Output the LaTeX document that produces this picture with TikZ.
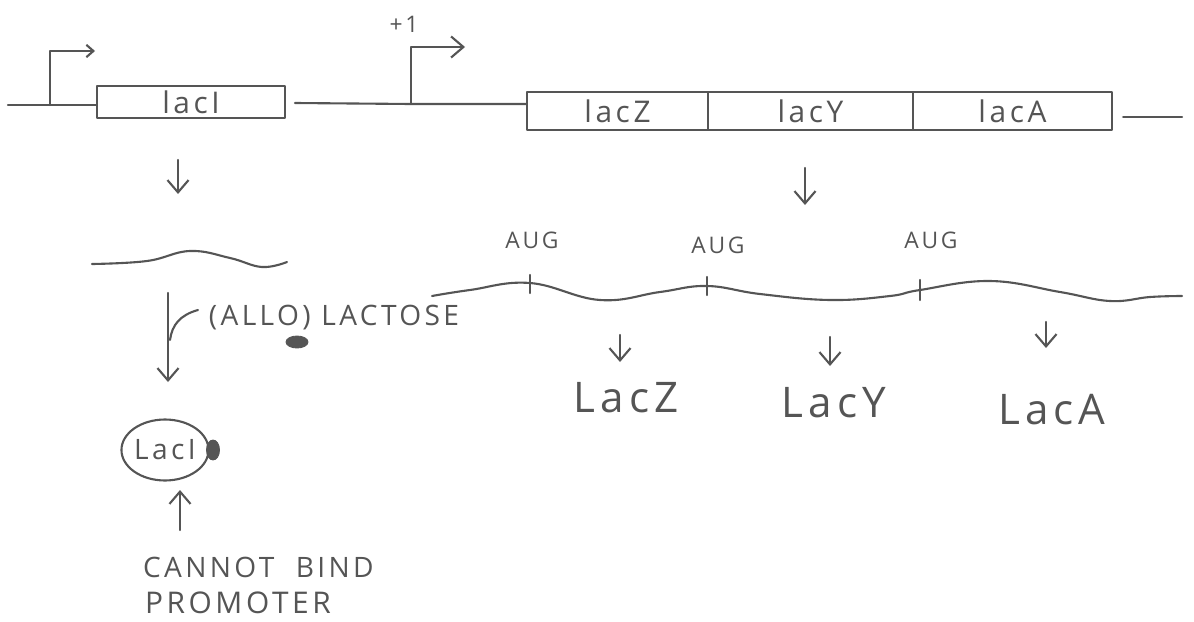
\documentclass[tikz,border=0pt]{standalone}
\usepackage{fontspec}
\newfontfamily\hand[LetterSpace=12]{Open Sans}
\usetikzlibrary{arrows.meta,shapes.geometric}
\definecolor{pencil}{HTML}{555555}
\begin{document}
\begin{tikzpicture}[x=0.02cm,y=-0.02cm,line width=1.2pt,color=pencil,line cap=round,line join=round,
  every node/.style={text=pencil,inner sep=0pt,font=\hand},
  arr/.style={-{Straight Barb[length=7pt,width=12pt,line width=1.2pt]}},
  genebox/.style={draw,rectangle,inner sep=0pt,font=\hand\fontsize{17}{17}\selectfont},
  lab/.style={font=\hand\fontsize{24}{24}\selectfont},
  caps/.style={font=\hand\fontsize{16}{16}\selectfont},
  aug/.style={font=\hand\fontsize{13}{13}\selectfont}]
\useasboundingbox (0,0) rectangle (1194,622);

% ---------------- DNA ----------------
\coordinate (dnaL) at (8,105);
\coordinate (p1) at (50,105);
\coordinate (p1top) at (50,51);
\coordinate (p1end) at (95,51);
\node[genebox,minimum width=3.76cm,minimum height=0.64cm] (lacI) at (191,102) {lacI};
\coordinate (mid) at (295,103);
\coordinate (p2) at (411,104);
\coordinate (p2top) at (411,47);
\coordinate (p2end) at (465,47);
\node[font=\hand\fontsize{13}{13}\selectfont] (plus1) at (404,24) {+1};
\node[genebox,minimum width=3.62cm,minimum height=0.76cm] (lacZ) at (617.5,111) {lacZ};
\node[genebox,minimum width=4.10cm,minimum height=0.76cm] (lacY) at (810.5,111) {lacY};
\node[genebox,minimum width=3.98cm,minimum height=0.76cm] (lacA) at (1012.5,111) {lacA};
\coordinate (dnaR) at (1182,117);

\draw (dnaL) -- (lacI.west |- dnaL);
\draw[-{Straight Barb[length=4pt,width=7pt,line width=1.2pt]}] (p1) -- (p1top) -- (p1end);
\draw (mid) -- (p2) -- (lacZ.west |- p2);
\draw[arr] (p2) -- (p2top) -- (p2end);
\draw (lacA.east |- dnaR) ++(10,0) -- (dnaR);

% ---------------- transcription arrows ----------------
\coordinate (t1a) at (178,160);
\coordinate (t1b) at (178,194);
\draw[arr] (t1a) -- (t1b);
\coordinate (t2a) at (805,168);
\coordinate (t2b) at (805,205);
\draw[arr] (t2a) -- (t2b);

% ---------------- lacI mRNA ----------------
\draw plot[smooth,tension=0.7] coordinates {(92,264) (147,261) (190,251) (230,258) (262,267) (287,262)};

% ---------------- operon mRNA ----------------
\draw plot[smooth,tension=0.7] coordinates {(432,296) (470,290) (530,283) (600,300) (660,292) (707,286) (760,294) (830,300) (890,296) (920,290) (990,281) (1060,292) (1110,301) (1150,297) (1182,296)};
\coordinate (aug1) at (530,284);
\coordinate (aug2) at (707,286);
\coordinate (aug3) at (920,290);
\draw (aug1) ++(0,-9) -- ++(0,18);
\draw (aug2) ++(0,-9) -- ++(0,18);
\draw (aug3) ++(0,-10) -- ++(0,20);
\node[aug] (augA) at (532,240) {AUG};
\node[aug] (augB) at (718,245) {AUG};
\node[aug] (augC) at (931,240) {AUG};

% ---------------- translation ----------------
\coordinate (z1) at (620,335);
\coordinate (z2) at (620,362);
\coordinate (y1) at (830,337);
\coordinate (y2) at (830,366);
\coordinate (a1) at (1046,322);
\coordinate (a2) at (1046,348);
\draw[arr] (z1) -- (z2);
\draw[arr] (y1) -- (y2);
\draw[arr] (a1) -- (a2);
\node[lab] (protZ) at (626,398) {LacZ};
\node[lab] (protY) at (834,403) {LacY};
\node[lab] (protA) at (1052,410) {LacA};

% ---------------- repressor ----------------
\coordinate (r1) at (168,293);
\coordinate (r2) at (168,382);
\draw[arr] (r1) -- (r2);
\coordinate (c1) at (198,310);
\coordinate (c2) at (170,340);
\draw (c1) .. controls (180,315) and (172,325) .. (c2);
\node[caps] (allo) at (334,318) {(ALLO) LACTOSE};
\node[draw,fill=pencil,ellipse,minimum width=0.44cm,minimum height=0.24cm,line width=0.5pt] (dot1) at (297,342) {};
\node[draw,ellipse,minimum width=1.68cm,minimum height=1.22cm,font=\hand\fontsize{16}{16}\selectfont] (prot) at (165,450) {LacI};
\node[draw,fill=pencil,ellipse,minimum width=0.26cm,minimum height=0.4cm,line width=0.5pt] (dot2) at (213,450) {};
\coordinate (u1) at (180,530);
\coordinate (u2) at (180,490);
\draw[arr] (u1) -- (u2);
\node[caps,font=\hand\fontsize{16}{16}\selectfont,anchor=west] (cannot) at (142,567) {CANNOT\ \ BIND};
\node[caps,font=\hand\fontsize{17}{17}\selectfont,anchor=west] (promoter) at (144,603) {PROMOTER};
\end{tikzpicture}
\end{document}
